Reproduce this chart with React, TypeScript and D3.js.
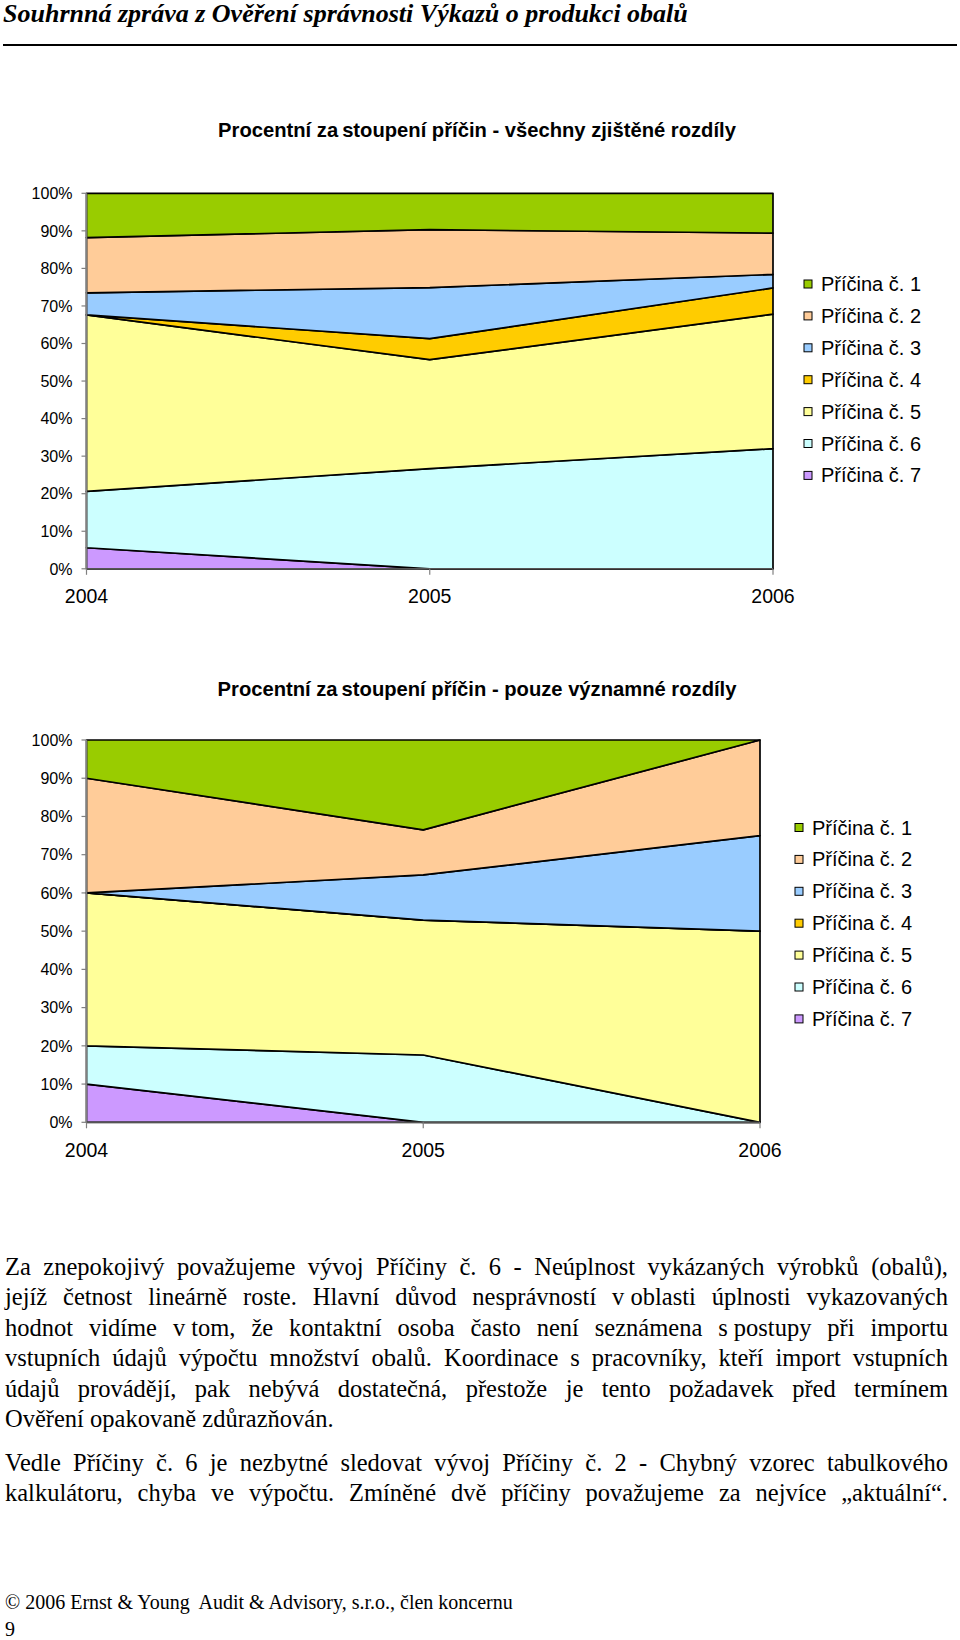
import { useEffect, useRef } from 'react'
import * as d3 from 'd3'

const years = ['2004', '2005', '2006']
const causes = ['Příčina č. 1', 'Příčina č. 2', 'Příčina č. 3', 'Příčina č. 4', 'Příčina č. 5', 'Příčina č. 6', 'Příčina č. 7']
const causeColors = ['#99CC00', '#FFCC99', '#99CCFF', '#FFCC00', '#FFFF99', '#CCFFFF', '#CC99FF']
const yTicks = [0, 0.1, 0.2, 0.3, 0.4, 0.5, 0.6, 0.7, 0.8, 0.9, 1]

// chart 1 - all differences, percent by cause, per year
const allCause1 = [11.8, 9.7, 10.6]
const allCause2 = [14.7, 15.4, 11.0]
const allCause3 = [5.9, 13.6, 3.6]
const allCause4 = [0, 5.6, 7.0]
const allCause5 = [47.0, 29.0, 35.8]
const allCause6 = [15.0, 26.7, 32.0]
const allCause7 = [5.6, 0, 0]

// chart 2 - significant differences only
const sigCause1 = [10, 23.5, 0]
const sigCause2 = [30, 11.8, 25]
const sigCause3 = [0, 11.8, 25]
const sigCause4 = [0, 0, 0]
const sigCause5 = [40, 35.3, 50]
const sigCause6 = [10, 17.6, 0]
const sigCause7 = [10, 0, 0]

const pageTitle = 'Souhrnná zpráva z Ověření správnosti Výkazů o produkci obalů'
const chart1Title = ['Procentní za', 'stoupení příčin - všechny zjištěné rozdíly']
const chart2Title = ['Procentní za', 'stoupení příčin - pouze významné rozdíly']

const NB = '\u00A0'
const paragraphLines: [string, boolean][] = [
  ['Za znepokojivý považujeme vývoj Příčiny č. 6 - Neúplnost vykázaných výrobků (obalů),', true],
  [`jejíž četnost lineárně roste. Hlavní důvod nesprávností v${NB}oblasti úplnosti vykazovaných`, true],
  [`hodnot vidíme v${NB}tom, že kontaktní osoba často není seznámena s${NB}postupy při importu`, true],
  ['vstupních údajů výpočtu množství obalů. Koordinace s pracovníky, kteří import vstupních', true],
  ['údajů provádějí, pak nebývá dostatečná, přestože je tento požadavek před termínem', true],
  ['Ověření opakovaně zdůrazňován.', false],
  ['Vedle Příčiny č. 6 je nezbytné sledovat vývoj Příčiny č. 2 - Chybný vzorec tabulkového', true],
  ['kalkulátoru, chyba ve výpočtu. Zmíněné dvě příčiny považujeme za nejvíce „aktuální“.', true],
]
const footerLines = ['© 2006 Ernst & Young  Audit & Advisory, s.r.o., člen koncernu', '9']

const SANS = "'Liberation Sans', Arial, sans-serif"
const SERIF = "'Liberation Serif', 'Times New Roman', serif"

type Row = { year: string; [k: string]: number | string }

function buildRows(series: number[][]): Row[] {
  return years.map((y, i) => {
    const r: Row = { year: y }
    causes.forEach((c, j) => { r[c] = series[j][i] })
    return r
  })
}

interface ChartCfg {
  rows: Row[]
  title: string[]
  titleY: number
  left: number
  right: number
  top: number
  bottom: number
  xLabelY: number
  legendX: number
  legendY: number
  legendStep: number
}

function drawChart(svg: d3.Selection<SVGSVGElement, unknown, null, undefined>, cfg: ChartCfg) {
  const g = svg.append('g')
  const x = d3.scalePoint<string>().domain(years).range([cfg.left, cfg.right])
  const y = d3.scaleLinear().domain([0, 1]).range([cfg.bottom, cfg.top])

  // bottom-up: cause 7 first, cause 1 on top
  const keys = [...causes].reverse()
  const stacked = d3.stack<Row>().keys(keys).value((d, k) => d[k] as number).offset(d3.stackOffsetExpand)(cfg.rows)

  const area = d3.area<d3.SeriesPoint<Row>>()
    .x(d => x(d.data.year) as number)
    .y0(d => y(d[0]))
    .y1(d => y(d[1]))

  g.selectAll('path.layer')
    .data(stacked)
    .enter().append('path')
    .attr('class', 'layer')
    .attr('d', d => area(d) + 'Z')
    .attr('fill', d => causeColors[causes.indexOf(d.key)])
    .attr('stroke', '#000')
    .attr('stroke-width', 1.7)
    .attr('stroke-linejoin', 'round')

  // axes
  g.append('line').attr('x1', cfg.left).attr('x2', cfg.left).attr('y1', cfg.top).attr('y2', cfg.bottom)
    .attr('stroke', '#808080').attr('stroke-width', 1.5)
  g.append('line').attr('x1', cfg.left).attr('x2', cfg.right).attr('y1', cfg.bottom).attr('y2', cfg.bottom)
    .attr('stroke', '#555').attr('stroke-width', 1.5)

  g.selectAll('line.ytick').data(yTicks).enter().append('line')
    .attr('x1', cfg.left - 5).attr('x2', cfg.left)
    .attr('y1', d => y(d)).attr('y2', d => y(d))
    .attr('stroke', '#808080').attr('stroke-width', 1.2)
  g.selectAll('text.ylab').data(yTicks).enter().append('text')
    .attr('x', cfg.left - 14).attr('y', d => y(d) + 5.7)
    .attr('text-anchor', 'end')
    .attr('font-family', SANS).attr('font-size', 16)
    .text(d => d3.format('.0%')(d))

  g.selectAll('line.xtick').data(years).enter().append('line')
    .attr('x1', d => x(d) as number).attr('x2', d => x(d) as number)
    .attr('y1', cfg.bottom).attr('y2', cfg.bottom + 6)
    .attr('stroke', '#808080').attr('stroke-width', 1.2)
  g.selectAll('text.xlab').data(years).enter().append('text')
    .attr('x', d => x(d) as number).attr('y', cfg.xLabelY)
    .attr('text-anchor', 'middle')
    .attr('font-family', SANS).attr('font-size', 19.5)
    .text(d => d)

  // title
  const t = g.append('text').attr('x', 477).attr('y', cfg.titleY).attr('text-anchor', 'middle')
    .attr('font-family', SANS).attr('font-size', 20.2).attr('font-weight', 'bold')
  t.append('tspan').text(cfg.title[0])
  t.append('tspan').attr('dx', 4).text(cfg.title[1])

  // legend
  const lg = g.append('g')
  causes.forEach((c, i) => {
    const cy = cfg.legendY + i * cfg.legendStep
    lg.append('rect').attr('x', cfg.legendX).attr('y', cy - 4).attr('width', 8).attr('height', 8)
      .attr('fill', causeColors[i]).attr('stroke', '#000').attr('stroke-width', 1)
    lg.append('text').attr('x', cfg.legendX + 17).attr('y', cy + 7)
      .attr('font-family', SANS).attr('font-size', 20)
      .text(c)
  })
}

function drawLine(svg: d3.Selection<SVGSVGElement, unknown, null, undefined>, line: string, y: number, x0: number, x1: number, justify: boolean) {
  const size = 24.5
  const words = line.split(' ')
  const nodes = words.map(w => svg.append('text')
    .attr('y', y).attr('font-family', SERIF).attr('font-size', size).text(w))
  const widths = nodes.map(n => (n.node() as SVGTextElement).getComputedTextLength())
  const total = d3.sum(widths)
  const space = size * 0.25
  const gap = justify && words.length > 1 ? Math.max((x1 - x0 - total) / (words.length - 1), 2.5) : space
  let cx = x0
  nodes.forEach((n, i) => { n.attr('x', cx); cx += widths[i] + gap })
}

export default function App() {
  const svgRef = useRef<SVGSVGElement>(null)

  useEffect(() => {
    if (!svgRef.current) return
    const svg = d3.select(svgRef.current)
    svg.selectAll('*').remove()

    // page header
    svg.append('text').attr('x', 3).attr('y', 22)
      .attr('font-family', SERIF).attr('font-size', 26).attr('font-weight', 'bold').attr('font-style', 'italic')
      .text(pageTitle)
    svg.append('line').attr('x1', 3).attr('x2', 957).attr('y1', 45).attr('y2', 45)
      .attr('stroke', '#000').attr('stroke-width', 2)

    drawChart(svg, {
      rows: buildRows([allCause1, allCause2, allCause3, allCause4, allCause5, allCause6, allCause7]),
      title: chart1Title, titleY: 137,
      left: 86.5, right: 773, top: 193.3, bottom: 568.8,
      xLabelY: 603,
      legendX: 804, legendY: 284, legendStep: 31.9,
    })

    drawChart(svg, {
      rows: buildRows([sigCause1, sigCause2, sigCause3, sigCause4, sigCause5, sigCause6, sigCause7]),
      title: chart2Title, titleY: 696,
      left: 86.5, right: 760, top: 740, bottom: 1122.3,
      xLabelY: 1157,
      legendX: 795, legendY: 827.5, legendStep: 31.9,
    })

    paragraphLines.forEach(([l, j], i) => {
      const y = 1275 + i * 30.4 + (i >= 6 ? 13.6 : 0)
      drawLine(svg, l, y, 5, 948, j)
    })

    footerLines.forEach((l, i) => {
      svg.append('text').attr('x', 5).attr('y', 1609 + i * 27)
        .attr('font-family', SERIF).attr('font-size', 20)
        .attr('xml:space', 'preserve')
        .style('white-space', 'pre')
        .text(l)
    })
  }, [])

  return (
    <svg
      ref={svgRef}
      width={960}
      height={1640}
      style={{ position: 'absolute', left: 0, top: 0, background: '#fff' }}
    />
  )
}
